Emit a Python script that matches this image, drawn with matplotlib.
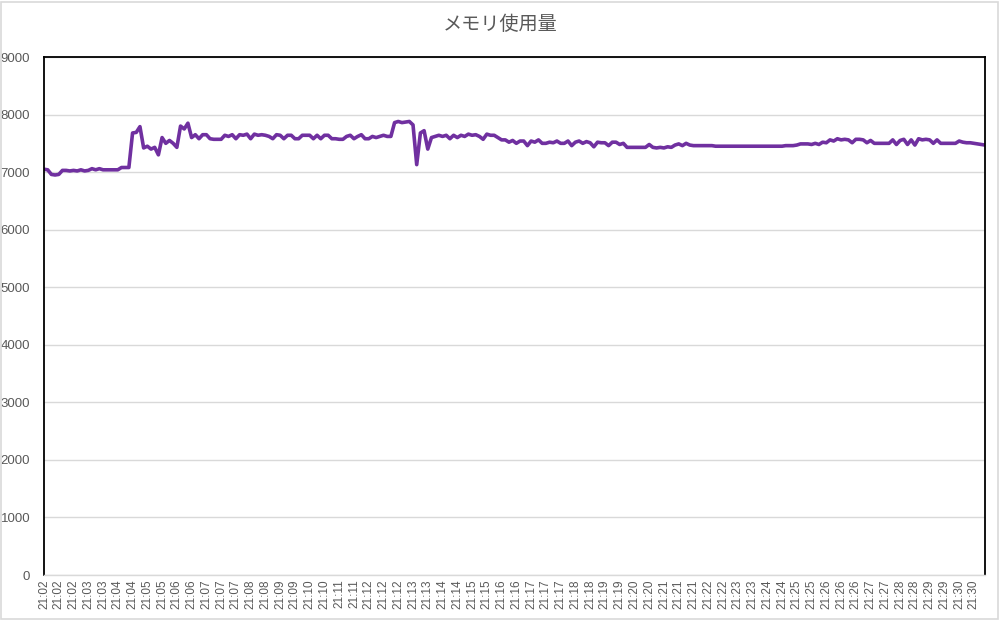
import matplotlib
matplotlib.use("Agg")
import matplotlib.pyplot as plt
from matplotlib.patches import Rectangle

plt.rcParams['font.family'] = ['Noto Sans CJK JP', 'DejaVu Sans']

title = "メモリ使用量"

memory = [
    7050, 7040, 6960, 6950, 6960, 7030, 7030, 7020, 7030, 7020,
    7040, 7020, 7030, 7060, 7040, 7060, 7040, 7040, 7040, 7040,
    7040, 7080, 7080, 7080, 7680, 7690, 7790, 7420, 7450, 7400,
    7430, 7300, 7600, 7500, 7550, 7500, 7430, 7800, 7750, 7850,
    7600, 7650, 7580, 7650, 7650, 7580, 7570, 7570, 7570, 7640,
    7620, 7650, 7580, 7650, 7640, 7660, 7580, 7660, 7640, 7650,
    7640, 7620, 7580, 7650, 7640, 7580, 7640, 7640, 7580, 7580,
    7640, 7640, 7640, 7580, 7640, 7580, 7640, 7640, 7580, 7580,
    7570, 7570, 7620, 7640, 7580, 7620, 7650, 7580, 7580, 7620,
    7600, 7620, 7640, 7620, 7620, 7860, 7880, 7860, 7870, 7880,
    7820, 7130, 7680, 7720, 7400, 7600, 7620, 7640, 7620, 7640,
    7580, 7640, 7600, 7640, 7620, 7660, 7640, 7650, 7620, 7570,
    7660, 7640, 7640, 7600, 7560, 7560, 7520, 7550, 7500, 7540,
    7540, 7460, 7540, 7520, 7560, 7500, 7500, 7520, 7510, 7540,
    7500, 7500, 7540, 7460, 7520, 7540, 7500, 7530, 7510, 7440,
    7520, 7510, 7510, 7460, 7520, 7520, 7480, 7500, 7430, 7430,
    7430, 7430, 7430, 7430, 7480, 7430, 7420, 7430, 7420, 7440,
    7430, 7470, 7490, 7460, 7500, 7470, 7460, 7460, 7460, 7460,
    7460, 7460, 7450, 7450, 7450, 7450, 7450, 7450, 7450, 7450,
    7450, 7450, 7450, 7450, 7450, 7450, 7450, 7450, 7450, 7450,
    7450, 7460, 7460, 7460, 7470, 7490, 7490, 7490, 7480, 7500,
    7480, 7520, 7510, 7560, 7540, 7580, 7560, 7570, 7560, 7510,
    7570, 7570, 7560, 7510, 7550, 7500, 7500, 7500, 7500, 7500,
    7560, 7480, 7550, 7570, 7480, 7560, 7470, 7580, 7560, 7570,
    7560, 7500, 7560, 7500, 7500, 7500, 7500, 7500, 7540, 7520,
    7510, 7510, 7500, 7490, 7480, 7470,
]

tick_labels = [
    "21:02", "21:02", "21:02", "21:03", "21:03", "21:04", "21:04", "21:05",
    "21:05", "21:06", "21:06", "21:07", "21:07", "21:07", "21:08", "21:08",
    "21:09", "21:09", "21:10", "21:10", "21:11", "21:11", "21:12", "21:12",
    "21:12", "21:13", "21:13", "21:14", "21:14", "21:15", "21:15", "21:16",
    "21:16", "21:17", "21:17", "21:17", "21:18", "21:18", "21:19", "21:19",
    "21:20", "21:20", "21:21", "21:21", "21:21", "21:22", "21:22", "21:23",
    "21:23", "21:24", "21:24", "21:25", "21:25", "21:26", "21:26", "21:26",
    "21:27", "21:27", "21:28", "21:28", "21:29", "21:29", "21:30", "21:30",
]
label_step = 4

y_ticks = [0, 1000, 2000, 3000, 4000, 5000, 6000, 7000, 8000, 9000]

text_color = "#595959"
grid_color = "#D9D9D9"
line_color = "#7030A0"
tick_font = ['Liberation Sans', 'DejaVu Sans']

fig = plt.figure(figsize=(10, 6.2), dpi=100)
ax = fig.add_axes([0.044, 1 - 575 / 620, 0.941, (575 - 57) / 620])

x = list(range(len(memory)))
ax.plot(x, memory, color=line_color, linewidth=2.6,
        solid_joinstyle="round", solid_capstyle="round")

ax.set_xlim(0, len(memory) - 1)
ax.set_ylim(0, 9000)
ax.set_yticks(y_ticks)
ax.set_yticklabels([str(v) for v in y_ticks], family=tick_font, fontsize=9.5,
                   color=text_color)
ax.yaxis.grid(True, color=grid_color, linewidth=1)
ax.set_axisbelow(True)

tick_pos = [i * label_step for i in range(len(tick_labels))]
ax.set_xticks(tick_pos)
ax.set_xticklabels(tick_labels, rotation=90, fontsize=8.5, color=text_color,
                   va="top", ha="center", family=tick_font)
ax.tick_params(axis="x", length=0, pad=3)
ax.tick_params(axis="y", length=0, pad=10)

for side in ("left", "top", "right"):
    ax.spines[side].set_color("black")
    ax.spines[side].set_linewidth(1.3)
ax.spines["bottom"].set_color(grid_color)
ax.spines["bottom"].set_linewidth(1)

fig.text(0.5, 1 - 25 / 620, title, ha="center", va="center",
         fontsize=13.8, color=text_color)

fig.patches.append(Rectangle((0.001, 0.002), 0.997, 0.995,
                             transform=fig.transFigure, fill=False,
                             edgecolor=grid_color, linewidth=1.2))

fig.savefig("out.png", dpi=100)
